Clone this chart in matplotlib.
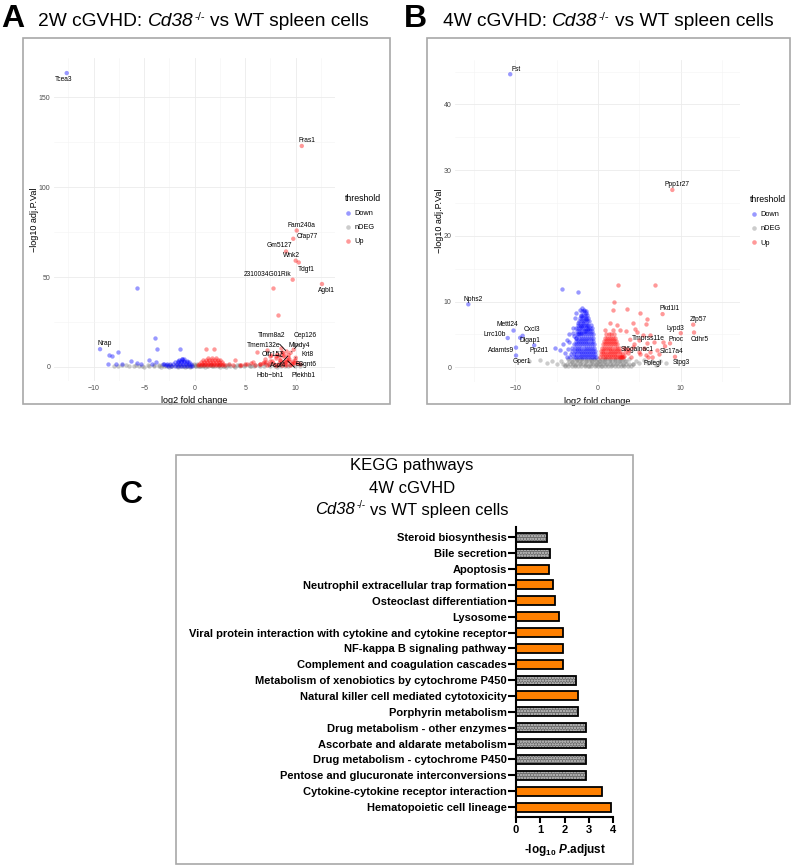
import matplotlib
matplotlib.use("Agg")
import matplotlib.pyplot as plt
from matplotlib.patches import Rectangle
from matplotlib.lines import Line2D
from matplotlib.transforms import IdentityTransform

plt.rcParams['font.family'] = ['Liberation Sans', 'DejaVu Sans']
plt.rcParams['mathtext.fontset'] = 'custom'
plt.rcParams['mathtext.rm'] = 'Liberation Sans'
plt.rcParams['mathtext.it'] = 'Liberation Sans:italic'
plt.rcParams['mathtext.bf'] = 'Liberation Sans:bold'
plt.rcParams['mathtext.bfit'] = 'Liberation Sans:bold:italic'
plt.rcParams['hatch.linewidth'] = 0.6

# ---------------- panel A: 2W volcano ----------------
a_down_x = [-8.45, -8.2, -7.6, -8.55, -7.8, -7.2, -6.3, -5.7, -5.3, -4.5, -3.9, -3.7, -3.8, -4.2,
            -3.0, -2.7, -1.5, -5.74, -3.1, -2.8, -1.6, -1.3]
a_down_y = [6.5, 6.1, 8.0, 1.7, 1.7, 1.5, 3.0, 2.0, 1.5, 3.9, 16.3, 10.0, 2.4, 1.5,
            1.7, 1.7, 9.8, 44.0, 1.7, 1.2, 3.7, 4.1]
# dense core of the down cloud: -log10 p level -> log2 fold changes
a_down_rows = {0.6: [-2.6, -2.3, -2.0, -1.7, -1.4, -1.1, -0.8, -0.5, -0.3],
               1.5: [-2.4, -2.1, -1.8, -1.5, -1.2, -0.9, -0.6, -0.4],
               2.4: [-2.0, -1.7, -1.4, -1.1, -0.8, -0.55],
               3.3: [-1.7, -1.4, -1.1, -0.8],
               4.2: [-1.3, -1.05]}
a_ndeg_x = [-8.0, -7.2, -6.5, -5.8, -5.2, -4.6, -4.0, -3.5, -3.0, -2.6, -2.2, -1.9, -1.5, -1.2,
            -0.9, -0.6, -0.3, 0.0, 0.3, 0.6, 0.9, 1.2, 1.6, 2.0, 2.4, 2.9, 3.4, 3.9, 4.4, 4.9,
            5.4, 5.9, 6.4, 6.9, 7.4, 7.9, 8.4, 8.9, 9.4, 9.9, 10.4, -0.1, 0.2, -2.5, 2.5, -1.0,
            1.0, 4.0, -5.0, 7.0, -0.5, 0.5, -1.7, 1.7, 3.1, -3.3, 5.6, 8.1, -6.8, -7.6]
a_ndeg_y = [0.6, 0.9, 0.4, 1.0, 0.5, 0.8, 0.3, 1.0, 0.5, 0.8, 0.3, 0.9, 0.5, 0.2,
            0.7, 0.4, 0.9, 0.2, 0.7, 0.4, 0.9, 0.3, 0.8, 0.4, 1.0, 0.5, 0.8, 0.3, 0.9, 0.5,
            1.0, 0.4, 0.8, 0.3, 0.9, 0.5, 1.0, 0.4, 0.8, 0.3, 0.6, 1.4, 1.3, 0.1, 0.1, 0.0,
            0.0, 0.0, 0.1, 1.3, 0.1, 0.2, 0.1, 0.2, 0.1, 0.1, 0.2, 0.1, 1.2, 0.2]
a_ndeg_rows = {0.3: [-6.0, -5.5, -4.5, -3.5, -2.8, -2.3, -1.8, -1.3, -0.8, -0.4, 0.1, 0.4, 0.8,
                     1.3, 1.8, 2.3, 2.8, 3.5, 4.5, 5.5, 6.5, 7.5, 8.5, 9.2],
               1.1: [-4.0, -3.2, -2.4, -1.6, -0.8, 0.0, 0.8, 1.6, 2.4, 3.2, 4.2, 5.0, 6.0]}
a_up_x = [1.12, 1.94, 2.5, 3.4, 7.8, 8.2, 6.2, 4.0, 7.2, 8.5, 8.8, 9.1, 9.7, 10.1, 9.45, 6.8,
          7.0, 7.4, 7.7, 8.0, 8.3, 8.6, 8.9, 9.3, 9.6, 7.5, 7.9, 8.4, 6.5, 5.2, 5.8, 4.6, 10.4,
          9.9, 8.1, 7.1, 6.5, 6.9, 7.2, 7.5, 7.8, 8.1, 8.4, 8.7, 9.0, 9.3, 9.6, 8.0, 7.6, 8.3,
          8.6, 9.2, 5.0, 5.6, 6.0, 4.5, 3.8]
a_up_y = [9.8, 9.8, 3.9, 1.7, 44.0, 28.6, 8.5, 3.9, 9.5, 10.4, 6.7, 3.0, 3.0, 2.0, 1.0, 2.0,
          4.5, 1.5, 3.2, 5.8, 2.3, 1.2, 1.8, 4.4, 1.5, 6.1, 1.1, 3.6, 1.3, 1.8, 2.6, 1.2, 1.4,
          4.0, 7.2, 2.9, 1.5, 2.5, 1.0, 3.0, 2.0, 1.0, 3.5, 2.5, 1.2, 3.3, 2.2, 4.8, 6.5, 6.0,
          8.0, 5.5, 1.5, 2.0, 1.0, 1.0, 1.2]
a_up_rows = {0.8: [0.3, 0.6, 0.9, 1.2, 1.5, 1.8, 2.1, 2.4, 2.7, 3.0],
             1.8: [0.4, 0.7, 1.0, 1.3, 1.6, 1.9, 2.2, 2.5, 2.8],
             2.8: [0.6, 0.9, 1.2, 1.5, 1.8, 2.1, 2.4, 2.7],
             3.8: [0.8, 1.1, 1.4, 1.7, 2.0, 2.3],
             4.8: [1.3, 1.7, 2.1]}
a_label_genes = ['Tcea3', 'Fras1', 'Fam240a', 'Cfap77', 'Gm5127', 'Wnk2', 'Tdgf1', '2310034G01Rik',
                 'Agbl1', 'Nrap', 'Timm8a2', 'Cep126', 'Tmem132e', 'Mindy4', 'Olfr157', 'Krt8',
                 'Ascl4', 'B3gnt6', 'Hbb\u2212bh1', 'Plekhb1']
a_label_x = [-12.67, 10.6, 10.1, 9.76, 9.04, 10.0, 10.3, 9.7, 12.6, -9.37, 9.1, 9.8, 8.7, 9.5,
             8.8, 10.0, 9.0, 9.9, 9.3, 9.1]
a_label_y = [163.6, 123.0, 75.9, 71.3, 64.2, 59.1, 58.1, 48.5, 46.1, 9.8, 8.5, 9.5, 7.5, 7.8,
             5.6, 5.0, 2.5, 2.0, 6.5, 3.8]
a_label_class = ['Down', 'Up', 'Up', 'Up', 'Up', 'Up', 'Up', 'Up', 'Up', 'Down', 'Up', 'Up',
                 'Up', 'Up', 'Up', 'Up', 'Up', 'Up', 'Up', 'Up']

# ---------------- panel B: 4W volcano ----------------
b_down_x = [-4.4, -2.4, -4.6, -4.2, -3.8, -3.5, -3.2, -3.0, -2.9, -2.8, -3.3, -2.6, -2.2, -1.9,
            -1.7, -1.5, -1.4, -2.0, -2.4, -2.6, -2.1, -1.8, -1.3, -1.2, -1.6, -2.0, -2.4, -2.7,
            -3.7, -4.0, -3.5, -3.0, -5.2, -3.4, -3.1, -2.9, -3.6]
b_down_y = [11.9, 11.4, 2.6, 3.5, 4.2, 5.0, 3.0, 6.0, 4.8, 7.5, 2.0, 8.3, 8.8, 9.0,
            8.7, 8.2, 7.4, 7.8, 6.8, 6.0, 6.3, 6.8, 6.5, 5.8, 5.6, 5.3, 5.0, 4.4,
            1.6, 2.2, 3.8, 5.3, 3.0, 1.5, 2.5, 3.6, 2.8]
b_down_rows = {1.5: [-2.95, -2.7, -2.45, -2.2, -1.95, -1.7, -1.45, -1.2, -0.95, -0.7, -0.45, -0.25],
               2.0: [-2.85, -2.6, -2.35, -2.1, -1.85, -1.6, -1.35, -1.1, -0.85, -0.6, -0.35],
               2.5: [-2.8, -2.55, -2.3, -2.05, -1.8, -1.55, -1.3, -1.05, -0.8, -0.55, -0.35],
               3.0: [-2.75, -2.5, -2.25, -2.0, -1.75, -1.5, -1.25, -1.0, -0.75, -0.45],
               3.5: [-2.7, -2.45, -2.2, -1.95, -1.7, -1.45, -1.2, -0.95, -0.7, -0.45],
               4.0: [-2.65, -2.4, -2.15, -1.9, -1.65, -1.4, -1.15, -0.9, -0.6],
               4.5: [-2.6, -2.35, -2.1, -1.85, -1.6, -1.35, -1.1, -0.85, -0.55],
               5.0: [-2.55, -2.3, -2.05, -1.8, -1.55, -1.3, -1.05, -0.8, -0.6],
               5.5: [-2.5, -2.25, -2.0, -1.75, -1.5, -1.25, -1.0, -0.7],
               6.0: [-2.45, -2.2, -1.95, -1.7, -1.45, -1.2, -0.95, -0.75],
               6.5: [-2.4, -2.15, -1.9, -1.65, -1.4, -1.15, -0.9],
               7.0: [-2.3, -2.05, -1.8, -1.55, -1.3, -1.05],
               7.5: [-2.2, -1.95, -1.7, -1.45, -1.2],
               8.0: [-2.1, -1.85, -1.6, -1.35],
               8.5: [-1.95, -1.7, -1.5]}
b_ndeg_x = [-7.0, -6.2, -5.6, -5.0, -4.5, -4.0, -3.6, -3.2, -2.8, -2.5, -2.2, -1.9, -1.6, -1.4,
            -1.1, -0.9, -0.7, -0.5, -0.3, -0.1, 0.1, 0.3, 0.5, 0.7, 0.9, 1.1, 1.4, 1.7, 2.0,
            2.3, 2.7, 3.0, 3.4, 3.8, 4.2, 4.6, 5.0, 5.5, 6.0, 6.5, 7.0, 7.5, 8.2, -8.3]
b_ndeg_y = [1.1, 0.6, 0.9, 0.5, 1.0, 0.4, 1.2, 0.8, 0.3, 1.1, 0.6, 1.2, 0.4, 0.9,
            0.2, 1.1, 0.6, 1.2, 0.3, 0.8, 0.5, 1.0, 0.2, 0.8, 1.2, 0.5, 0.9, 0.3, 1.1,
            0.6, 1.0, 0.4, 0.9, 1.2, 0.5, 1.0, 0.7, 1.1, 0.6, 1.0, 0.4, 0.9, 0.6, 1.0]
b_ndeg_rows = {0.15: [-4.0, -3.6, -3.2, -2.8, -2.4, -2.0, -1.6, -1.2, -0.8, -0.4, 0.0, 0.4, 0.8,
                      1.2, 1.6, 2.0, 2.4, 2.8, 3.2, 3.6, 4.0],
               0.55: [-4.2, -3.8, -3.4, -3.0, -2.6, -2.2, -1.8, -1.4, -1.0, -0.6, -0.2, 0.2, 0.6,
                      1.0, 1.4, 1.8, 2.2, 2.6, 3.0, 3.4, 3.8, 4.2],
               0.95: [-3.5, -3.1, -2.7, -2.3, -1.9, -1.5, -1.1, -0.7, -0.3, 0.1, 0.5, 0.9, 1.3,
                      1.7, 2.1, 2.5, 2.9, 3.3],
               1.3: [-3.0, -2.5, -2.0, -1.5, -1.0, -0.5, 0.0, 0.5, 1.0, 1.5, 2.0, 2.5, 3.0]}
b_up_x = [2.45, 6.9, 1.9, 3.46, 5.07, 1.86, 5.96, 1.45, 2.25, 4.26, 5.8, 0.85, 1.86, 2.66, 3.4,
          4.5, 4.75, 5.4, 6.3, 5.0, 5.96, 6.8, 7.8, 4.26, 5.5, 7.1, 5.07, 6.0, 5.8, 7.4, 2.9,
          3.1, 3.3, 2.6, 4.0, 3.6, 4.9, 6.3, 4.4, 3.2, 3.8]
b_up_y = [12.5, 12.5, 9.9, 8.9, 8.3, 8.7, 7.3, 6.7, 6.4, 6.7, 6.6, 5.7, 5.7, 5.7, 5.6,
          5.8, 5.4, 4.9, 4.9, 4.2, 3.65, 3.9, 3.9, 3.1, 2.9, 2.6, 2.0, 1.6, 1.85, 2.1, 1.5,
          1.8, 2.3, 1.6, 1.6, 2.2, 2.4, 2.3, 3.5, 3.0, 2.6]
b_up_rows = {1.5: [0.3, 0.55, 0.8, 1.05, 1.3, 1.55, 1.8, 2.05, 2.3, 2.55, 2.8, 3.0],
             2.0: [0.35, 0.6, 0.85, 1.1, 1.35, 1.6, 1.85, 2.1, 2.35, 2.6, 2.85],
             2.5: [0.4, 0.65, 0.9, 1.15, 1.4, 1.65, 1.9, 2.15, 2.4, 2.65],
             3.0: [0.5, 0.75, 1.0, 1.25, 1.5, 1.75, 2.0, 2.25, 2.5],
             3.5: [0.6, 0.85, 1.1, 1.35, 1.6, 1.85, 2.1, 2.35],
             4.0: [0.7, 0.95, 1.2, 1.45, 1.7, 1.95, 2.2],
             4.5: [0.85, 1.1, 1.35, 1.6, 1.85, 2.1],
             5.0: [1.0, 1.3, 1.6, 1.9]}
b_label_genes = ['Fst', 'Ppp1r27', 'Nphs2', 'Mettl24', 'Lrrc10b', 'Cxcl3', 'Dlgap1', 'Adamts9',
                 'Pp2d1', 'Gper1', 'Pkd1l1', 'Zfp57', 'Lypd3', 'Cdhr5', 'Pnoc', 'Tmprss11e',
                 'St6galnac1', 'Slc17a4', 'Polegl', 'Stpg3']
b_label_x = [-10.6, 8.98, -15.66, -10.2, -10.9, -9.1, -9.4, -9.9, -7.7, -9.9, 7.8, 11.5, 10.0,
             11.6, 8.7, 3.9, 3.6, 8.1, 6.6, 9.3]
b_label_y = [44.6, 27.0, 9.59, 5.6, 4.46, 4.8, 4.5, 3.0, 3.35, 1.8, 8.1, 6.5, 5.2, 5.3, 3.65,
             4.2, 2.7, 3.2, 1.5, 1.6]
b_label_class = ['Down', 'Up', 'Down', 'Down', 'Down', 'Down', 'Down', 'Down', 'Down', 'Down',
                 'Up', 'Up', 'Up', 'Up', 'Up', 'Up', 'Up', 'Up', 'Up', 'Up']

# ---------------- panel C: KEGG pathways ----------------
pathways = ['Steroid biosynthesis', 'Bile secretion', 'Apoptosis',
            'Neutrophil extracellular trap formation', 'Osteoclast differentiation', 'Lysosome',
            'Viral protein interaction with cytokine and cytokine receptor',
            'NF-kappa B signaling pathway', 'Complement and coagulation cascades',
            'Metabolism of xenobiotics by cytochrome P450',
            'Natural killer cell mediated cytotoxicity', 'Porphyrin metabolism',
            'Drug metabolism - other enzymes', 'Ascorbate and aldarate metabolism',
            'Drug metabolism - cytochrome P450', 'Pentose and glucuronate interconversions',
            'Cytokine-cytokine receptor interaction', 'Hematopoietic cell lineage']
neg_log_padj = [1.30, 1.41, 1.38, 1.54, 1.60, 1.76, 1.95, 1.95, 1.95, 2.46, 2.55, 2.55,
                2.88, 2.88, 2.88, 2.88, 3.54, 3.92]
pathway_kind = ['metabolic', 'metabolic', 'immune', 'immune', 'immune', 'immune', 'immune',
                'immune', 'immune', 'metabolic', 'immune', 'metabolic', 'metabolic', 'metabolic',
                'metabolic', 'metabolic', 'immune', 'immune']

W, H = 796, 866
fig = plt.figure(figsize=(W / 100, H / 100), dpi=100)


def px_box(x0, y0, x1, y1):
    return [x0 / W, 1 - y1 / H, (x1 - x0) / W, (y1 - y0) / H]


def with_rows(xs, ys, rows):
    xs, ys = list(xs), list(ys)
    for lvl, row in rows.items():
        xs += row
        ys += [lvl] * len(row)
    return xs, ys


cols = {'Down': 'blue', 'nDEG': 'grey', 'Up': 'red'}


def volcano(ax, down, ndeg, up, genes, gx, gy, gcls, offsets, xmaj, xmin, ymaj, ymin):
    ax.set_axisbelow(True)
    ax.scatter(ndeg[0], ndeg[1], s=10, color=cols['nDEG'], alpha=0.4, linewidths=0)
    ax.scatter(down[0], down[1], s=10, color=cols['Down'], alpha=0.4, linewidths=0)
    ax.scatter(up[0], up[1], s=10, color=cols['Up'], alpha=0.4, linewidths=0)
    ax.scatter(gx, gy, s=10, color=[cols[c] for c in gcls], alpha=0.4, linewidths=0)
    for g, x, y in zip(genes, gx, gy):
        dx, dy, seg = offsets[g]
        ax.annotate(g, (x, y), xytext=(dx, dy), textcoords='offset points', fontsize=4.8,
                    ha='center', va='center',
                    arrowprops=dict(arrowstyle='-', lw=0.6, color='black', shrinkA=2, shrinkB=1)
                    if seg else None)
    ax.set_xticks(xmaj)
    ax.set_xticks(xmin, minor=True)
    ax.set_yticks(ymaj)
    ax.set_yticks(ymin, minor=True)
    ax.grid(which='major', color='#ebebeb', lw=0.6)
    ax.grid(which='minor', color='#f4f4f4', lw=0.4)
    ax.tick_params(which='both', length=0, labelsize=5, labelcolor='#4d4d4d', pad=2.5)
    for s in ax.spines.values():
        s.set_visible(False)
    ax.set_xlabel('log2 fold change', fontsize=6.5, labelpad=3)
    ax.set_ylabel('\u2212log10 adj.P.Val', fontsize=6.5, labelpad=0)
    handles = [Line2D([], [], marker='o', ls='', color=cols[k], alpha=0.4, markersize=3.3,
                      markeredgewidth=0) for k in ['Down', 'nDEG', 'Up']]
    ax.legend(handles, ['Down', 'nDEG', 'Up'], title='threshold', loc='center left',
              bbox_to_anchor=(1.035, 0.5), frameon=False, fontsize=5.3, title_fontsize=6.3,
              handletextpad=0.4, labelspacing=0.95, borderpad=0, borderaxespad=0,
              alignment='left', handlelength=1.0)


# label offsets in points: (dx, dy, draw segment)
a_offsets = {'Tcea3': (-2, -4.5, False), 'Fras1': (3.5, 4, False), 'Fam240a': (3.5, 3.8, False),
             'Cfap77': (10, 1.5, False), 'Gm5127': (-5, 4, False), 'Wnk2': (-3, 3.8, False),
             'Tdgf1': (5.5, -4.8, False), '2310034G01Rik': (-18, 3.8, False),
             'Agbl1': (3, -4.6, False), 'Nrap': (3.5, 4.3, False),
             'Timm8a2': (-10.7, 11.3, True), 'Cep126': (8.1, 10, True),
             'Tmem132e': (-13.9, 5.6, True), 'Mindy4': (6, 5.3, True),
             'Olfr157': (-7.8, 1.4, True), 'Krt8': (8.4, 2.2, True),
             'Ascl4': (-5.3, -2.5, False), 'B3gnt6': (8.1, -1.2, True),
             'Hbb\u2212bh1': (-13.4, -14.7, True), 'Plekhb1': (12, -11.2, True)}
b_offsets = {'Fst': (4, 3.5, False), 'Ppp1r27': (3.6, 4, False), 'Nphs2': (3.6, 3.6, False),
             'Mettl24': (-4.3, 4.3, False), 'Lrrc10b': (-9.5, 2.2, False),
             'Cxcl3': (6.5, 4.3, False), 'Dlgap1': (7, -2, False), 'Adamts9': (-11, -2, False),
             'Pp2d1': (3.6, -3.9, False), 'Gper1': (4, -4.1, False), 'Pkd1l1': (5, 4.1, False),
             'Zfp57': (3.6, 3.8, False), 'Lypd3': (-3.6, 3.6, False), 'Cdhr5': (3.8, -4.8, False),
             'Pnoc': (4.3, 2.9, False), 'Tmprss11e': (13, 1, False),
             'St6galnac1': (6.5, 0, False), 'Slc17a4': (4.8, -3.4, False),
             'Polegl': (0, -4.3, False), 'Stpg3': (4.3, -4, False)}

ax_a = fig.add_axes(px_box(53.8, 58, 334.6, 381.5))
volcano(ax_a, with_rows(a_down_x, a_down_y, a_down_rows),
        with_rows(a_ndeg_x, a_ndeg_y, a_ndeg_rows),
        with_rows(a_up_x, a_up_y, a_up_rows),
        a_label_genes, a_label_x, a_label_y, a_label_class, a_offsets,
        [-10, -5, 0, 5, 10], [-12.5, -7.5, -2.5, 2.5, 7.5, 12.5],
        [0, 50, 100, 150], [25, 75, 125])
ax_a.set_xlim(-13.95, 13.85)
ax_a.set_ylim(-8.2, 172)

ax_b = fig.add_axes(px_box(455, 59.8, 740, 382))
volcano(ax_b, with_rows(b_down_x, b_down_y, b_down_rows),
        with_rows(b_ndeg_x, b_ndeg_y, b_ndeg_rows),
        with_rows(b_up_x, b_up_y, b_up_rows),
        b_label_genes, b_label_x, b_label_y, b_label_class, b_offsets,
        [-10, 0, 10], [-15, -5, 5, 15], [0, 10, 20, 30, 40], [5, 15, 25, 35, 45])
ax_b.set_xlim(-17.27, 17.15)
ax_b.set_ylim(-2.23, 46.8)

# panel C
ax_c = fig.add_axes(px_box(515.7, 526.7, 613.3, 816.7))
ypos = list(range(len(pathways)))
for y, v, k in zip(ypos, neg_log_padj, pathway_kind):
    if k == 'metabolic':
        ax_c.barh(y, v, height=0.57, color='#6c6c6c', hatch='oooooo', edgecolor='#ababab',
                  linewidth=0)
    else:
        ax_c.barh(y, v, height=0.57, color='#ff8000', linewidth=0)
ax_c.barh(ypos, neg_log_padj, height=0.57, fill=False, edgecolor='black', linewidth=1.3)
ax_c.set_ylim(len(pathways) - 1 + 0.61, -0.67)
ax_c.set_xlim(0, 4)
ax_c.set_yticks(ypos)
ax_c.set_yticklabels(pathways, fontsize=8, fontweight='bold')
ax_c.set_xticks([0, 1, 2, 3, 4])
ax_c.set_xticklabels(['0', '1', '2', '3', '4'], fontsize=8, fontweight='bold')
ax_c.tick_params(axis='y', length=5.5, width=1.5, pad=1)
ax_c.tick_params(axis='x', length=4, width=1.5, pad=2)
for s in ['top', 'right']:
    ax_c.spines[s].set_visible(False)
for s in ['left', 'bottom']:
    ax_c.spines[s].set_linewidth(1.5)
ax_c.set_xlabel(r'-log$_{\mathbf{10}}$ $\mathbfit{P}$.adjust', fontsize=8.5, fontweight='bold',
                labelpad=5)


def rich_text(x_px, base_px, pieces, size, ha='left'):
    # lays out plain / italic / superscript pieces next to each other, in pixels
    r = fig.canvas.get_renderer()
    tr = IdentityTransform()
    p1 = fig.text(0, 0, 'a a', fontsize=size, transform=tr)
    p2 = fig.text(0, 0, 'aa', fontsize=size, transform=tr)
    space = p1.get_window_extent(r).width - p2.get_window_extent(r).width
    p1.remove()
    p2.remove()
    placed = []
    cur = 0
    for s, style in pieces:
        if s == ' ':
            cur += space
            continue
        kw = dict(fontsize=size, transform=tr, va='baseline', ha='left')
        dy = 0
        if style == 'it':
            kw['fontstyle'] = 'italic'
        if style == 'sup':
            kw['fontsize'] = size * 0.58
            dy = size * 0.5
        t = fig.text(0, 0, s, **kw)
        placed.append((t, cur, dy))
        cur += t.get_window_extent(r).width + (1 if style == 'it' else 0)
    x0 = x_px - cur / 2 if ha == 'center' else x_px
    for t, off, dy in placed:
        t.set_position((x0 + off, H - base_px + dy))


def cd38_title(prefix):
    out = []
    if prefix:
        out += [(prefix, 'n'), (' ', 'n')]
    return out + [('Cd38', 'it'), ('-/-', 'sup'), (' ', 'n'), ('vs WT spleen cells', 'n')]


fig.text(1 / W, 1 - 27 / H, 'A', fontsize=23, fontweight='bold', va='baseline', ha='left')
rich_text(38, 26.5, cd38_title('2W cGVHD:'), 13.8)
fig.text(404 / W, 1 - 27 / H, 'B', fontsize=23, fontweight='bold', va='baseline', ha='left')
rich_text(442.7, 26.5, cd38_title('4W cGVHD:'), 13.8)
fig.text(120 / W, 1 - 503 / H, 'C', fontsize=23, fontweight='bold', va='baseline', ha='left')
fig.text(412 / W, 1 - 466 / H, 'KEGG pathways', fontsize=12, ha='center', va='center')
fig.text(412 / W, 1 - 488 / H, '4W cGVHD', fontsize=12, ha='center', va='center')
rich_text(412, 514.5, cd38_title(''), 12, ha='center')

# panel frames
for x0, y0, x1, y1 in [(23, 38, 390, 404), (427, 38, 790, 404), (176, 455, 633, 864)]:
    fig.add_artist(Rectangle((x0 / W, 1 - y1 / H), (x1 - x0) / W, (y1 - y0) / H,
                             transform=fig.transFigure, fill=False, edgecolor='#a8a8a8',
                             lw=1.2))

fig.savefig('out.png', dpi=100)
